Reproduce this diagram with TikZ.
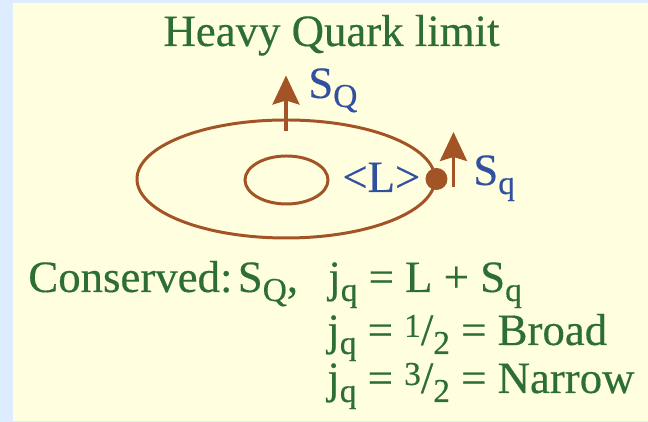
\documentclass[tikz,border=0pt]{standalone}
\usepackage{fontspec}
\setmainfont[FakeBold=0.35]{Liberation Serif}
\usepackage{tikz}
\usetikzlibrary{shapes.geometric, positioning, arrows.meta}

\definecolor{framebg}{RGB}{221,236,255}
\definecolor{panelbg}{RGB}{255,255,224}
\definecolor{textgreen}{RGB}{44,110,52}
\definecolor{labelblue}{RGB}{50,80,160}
\definecolor{orbitbrown}{RGB}{163,84,38}

\newcommand{\lo}[1]{\raisebox{-0.2em}{\fontsize{19}{19}\selectfont #1}}
\newcommand{\hi}[1]{\raisebox{0.18em}{\fontsize{19}{19}\selectfont #1}}

\begin{document}
\begin{tikzpicture}[
    txt/.style={inner sep=0pt, font=\fontsize{25.5}{30}\selectfont},
    orbit/.style={draw=orbitbrown, line width=1.7pt, ellipse, inner sep=0pt},
    spin/.style={draw=orbitbrown, line width=1.9pt,
        -{Stealth[length=0.58cm, width=0.54cm, inset=0.08cm]}}
]
    % background panel
    \fill[framebg] (0,0) rectangle (12.96,8.44);
    \fill[panelbg] (0.26,0.02) rectangle (12.96,8.38);
    \node[txt, textgreen, anchor=base] (title) at (6.63,7.52) {Heavy Quark limit};
    % orbits
    \node[orbit, minimum width=5.96cm, minimum height=2.36cm] (outer) at (5.72,4.86) {};
    \node[orbit, minimum width=1.66cm, minimum height=0.96cm] (inner) at (5.73,4.84) {};
    \node[circle, fill=orbitbrown, minimum size=0.44cm, inner sep=0pt] (quark) at (outer.east) {};
    % spins
    \coordinate (sQfoot) at ([yshift=-0.26cm]outer.north);
    \coordinate (sQtip) at ([yshift=0.86cm]outer.north);
    \draw[spin] (sQfoot) -- (sQtip);
    \coordinate (sqfoot) at ([xshift=0.34cm, yshift=-0.16cm]quark.center);
    \coordinate (sqtip) at ([xshift=0.34cm, yshift=0.94cm]quark.center);
    \draw[spin] (sqfoot) -- (sqtip);
    \node[txt, labelblue, anchor=base west] (SQ) at (6.16,6.48) {S\lo{Q}};
    \node[txt, labelblue, anchor=base west] (L) at (6.84,4.60) {<L>};
    \node[txt, labelblue, anchor=base west] (Sq) at (9.46,4.74) {S\lo{q}};
    % conserved quantities
    \node[txt, textgreen, anchor=base west] (cons) at (0.56,2.60) {Conserved:\hspace{0.12em}S\lo{Q},};
    \node[txt, textgreen, anchor=base west] (jq) at (6.56,2.60) {j\lo{q} = L + S\lo{q}};
    \node[txt, textgreen, anchor=base west] (broad) at (6.54,1.54) {j\lo{q} = \hi{1}/\lo{2} = Broad};
    \node[txt, textgreen, anchor=base west] (narrow) at (6.54,0.58) {j\lo{q} = \hi{3}/\lo{2} = Narrow};
\end{tikzpicture}
\end{document}
